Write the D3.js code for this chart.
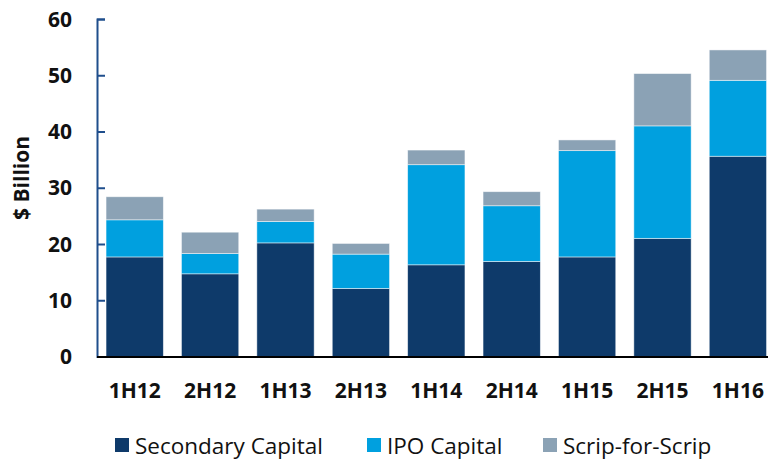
<!DOCTYPE html>
<html><head><meta charset="utf-8">
<script src="https://cdn.jsdelivr.net/npm/d3@7"></script>
<style>body{margin:0;background:#fff}svg{display:block}</style>
</head><body>
<svg id="c" width="768" height="460"></svg>
<script>
const categories = ["1H12","2H12","1H13","2H13","1H14","2H14","1H15","2H15","1H16"];
const secondary = [17.7,14.7,20.2,12.1,16.3,16.9,17.7,21.0,35.6];
const ipo = [6.6,3.6,3.8,6.1,17.8,9.9,18.9,20.0,13.5];
const scrip = [4.1,3.8,2.2,1.9,2.6,2.5,1.9,9.3,5.4];
const seriesNames = ["Secondary Capital","IPO Capital","Scrip-for-Scrip"];
const colors = ["#0E3A6A","#00A0DF","#8BA2B5"];
const yTicks = [0,10,20,30,40,50,60];

const svg = d3.select("#c");
const font = "'Open Sans', sans-serif";
const x = d3.scaleBand().domain(categories).range([97, 775.6]).paddingInner(0.24).paddingOuter(0.12);
const y = d3.scaleLinear().domain([0,60]).range([356.5,19]);

const rows = categories.map((c,i)=>({cat:c, s0:secondary[i], s1:ipo[i], s2:scrip[i]}));
const stack = d3.stack().keys(["s0","s1","s2"])(rows);

svg.append("g").selectAll("g").data(stack).join("g")
  .attr("fill",(d,i)=>colors[i])
  .selectAll("rect").data(d=>d).join("rect")
  .attr("x",d=>x(d.data.cat)).attr("width",x.bandwidth())
  .attr("y",d=>y(d[1])).attr("height",d=>y(d[0])-y(d[1]))
  .attr("stroke","#ffffff").attr("stroke-opacity",0.6).attr("stroke-width",0.8);

// y axis
const ya = svg.append("g").attr("transform","translate(97,0)")
  .call(d3.axisRight(y).tickValues(yTicks).tickSize(8).tickFormat(""));
ya.select(".domain").attr("stroke","#1F4E8C").attr("stroke-width",2);
ya.selectAll(".tick line").attr("stroke","#1F4E8C").attr("stroke-width",2);

svg.append("g").selectAll("text").data(yTicks).join("text")
  .attr("x",72).attr("y",d=>y(d)).attr("dy","0.36em")
  .attr("text-anchor","end").attr("font-family",font).attr("font-weight","bold")
  .attr("font-size",21).attr("fill","#111").text(d=>d);

// x axis
const xa = svg.append("g").attr("transform","translate(0,357)")
  .call(d3.axisBottom(x).tickSize(0).tickPadding(26.5));
xa.select(".domain").attr("stroke","#000").attr("stroke-width",2).attr("d","M97,0H768");
xa.selectAll("text").attr("font-family",font).attr("font-weight","bold").attr("font-size",21).attr("fill","#111");

// y label
svg.append("text").attr("transform","translate(29,178) rotate(-90)")
  .attr("text-anchor","middle").attr("font-family",font).attr("font-weight","bold")
  .attr("font-size",21).attr("fill","#111").text("$ Billion");

// legend
const legX = [115, 367, 543];
const lg = svg.append("g").selectAll("g").data(seriesNames).join("g")
  .attr("transform",(d,i)=>`translate(${legX[i]},438)`);
lg.append("rect").attr("width",14).attr("height",14).attr("fill",(d,i)=>colors[i]);
lg.append("text").attr("x",20).attr("y",7.5).attr("dy","0.36em")
  .attr("font-family",font).attr("font-size",22.5).attr("fill","#111").text(d=>d);
</script>
</body></html>
